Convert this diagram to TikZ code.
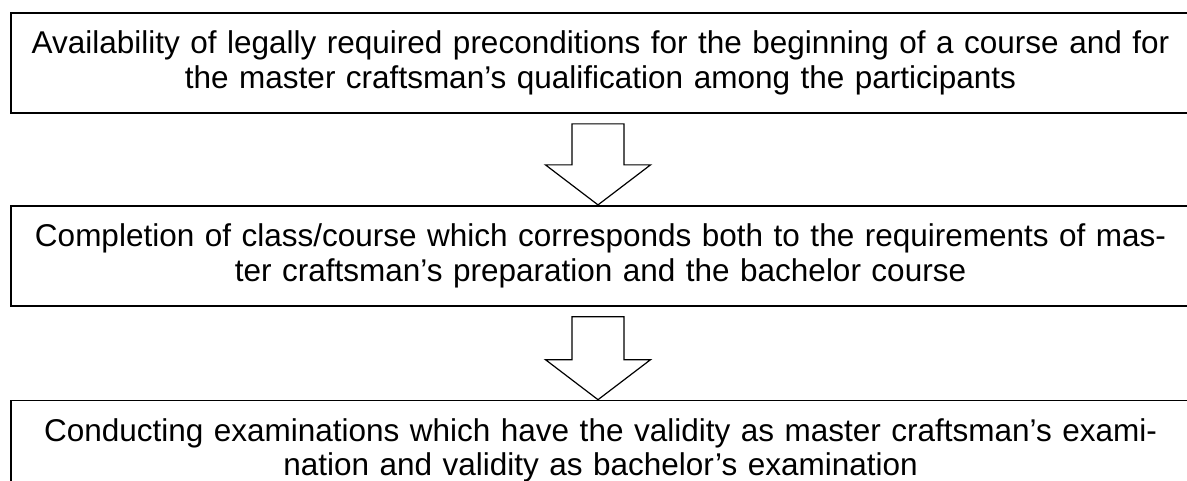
\documentclass[tikz,border=0pt]{standalone}
\usepackage{fontspec}
\setmainfont{Liberation Sans}
\usepackage{tikz}
\usetikzlibrary{positioning,calc}

\newcommand{\stagearrow}[2]{%
	\draw[stagearrow] ($(#2.north)+(-2.5,0)$) coordinate (tip)
		-- ++(52.5,40) -- ++(-26.5,0) -- ($(#1.south)+(23.5,-10)$)
		-- ++(-52,0) -- ($(tip)+(-26,40)$) -- ++(-26.5,0) -- cycle;}

\begin{document}
\begin{tikzpicture}[x=1pt,y=1pt,
		stagebox/.style={draw,line width=1.8pt,rectangle,minimum width=1179pt,minimum height=100pt,
			text width=1170pt,align=center,inner sep=0pt,font=\fontsize{31.5}{34.5}\selectfont},
		stagearrow/.style={draw,line width=1.2pt,line join=miter,fill=white},
		node distance=92pt]
				\useasboundingbox (0,0) rectangle (1187,481);
				\node[stagebox] (pre) at (600.5,418) {Availability of legally required preconditions for the beginning of a course and for\\the master craftsman’s qualification among the participants};
				\node[stagebox,below=91pt of pre] (course) {Completion of class/course which corresponds both to the requirements of mas-\\ter craftsman’s preparation and the bachelor course};
				\node[stagebox,below=93pt of course] (exam) {Conducting examinations which have the validity as master craftsman’s exami-\\nation and validity as bachelor’s examination};
				\stagearrow{pre}{course}
				\stagearrow{course}{exam}
			\end{tikzpicture}
\end{document}
